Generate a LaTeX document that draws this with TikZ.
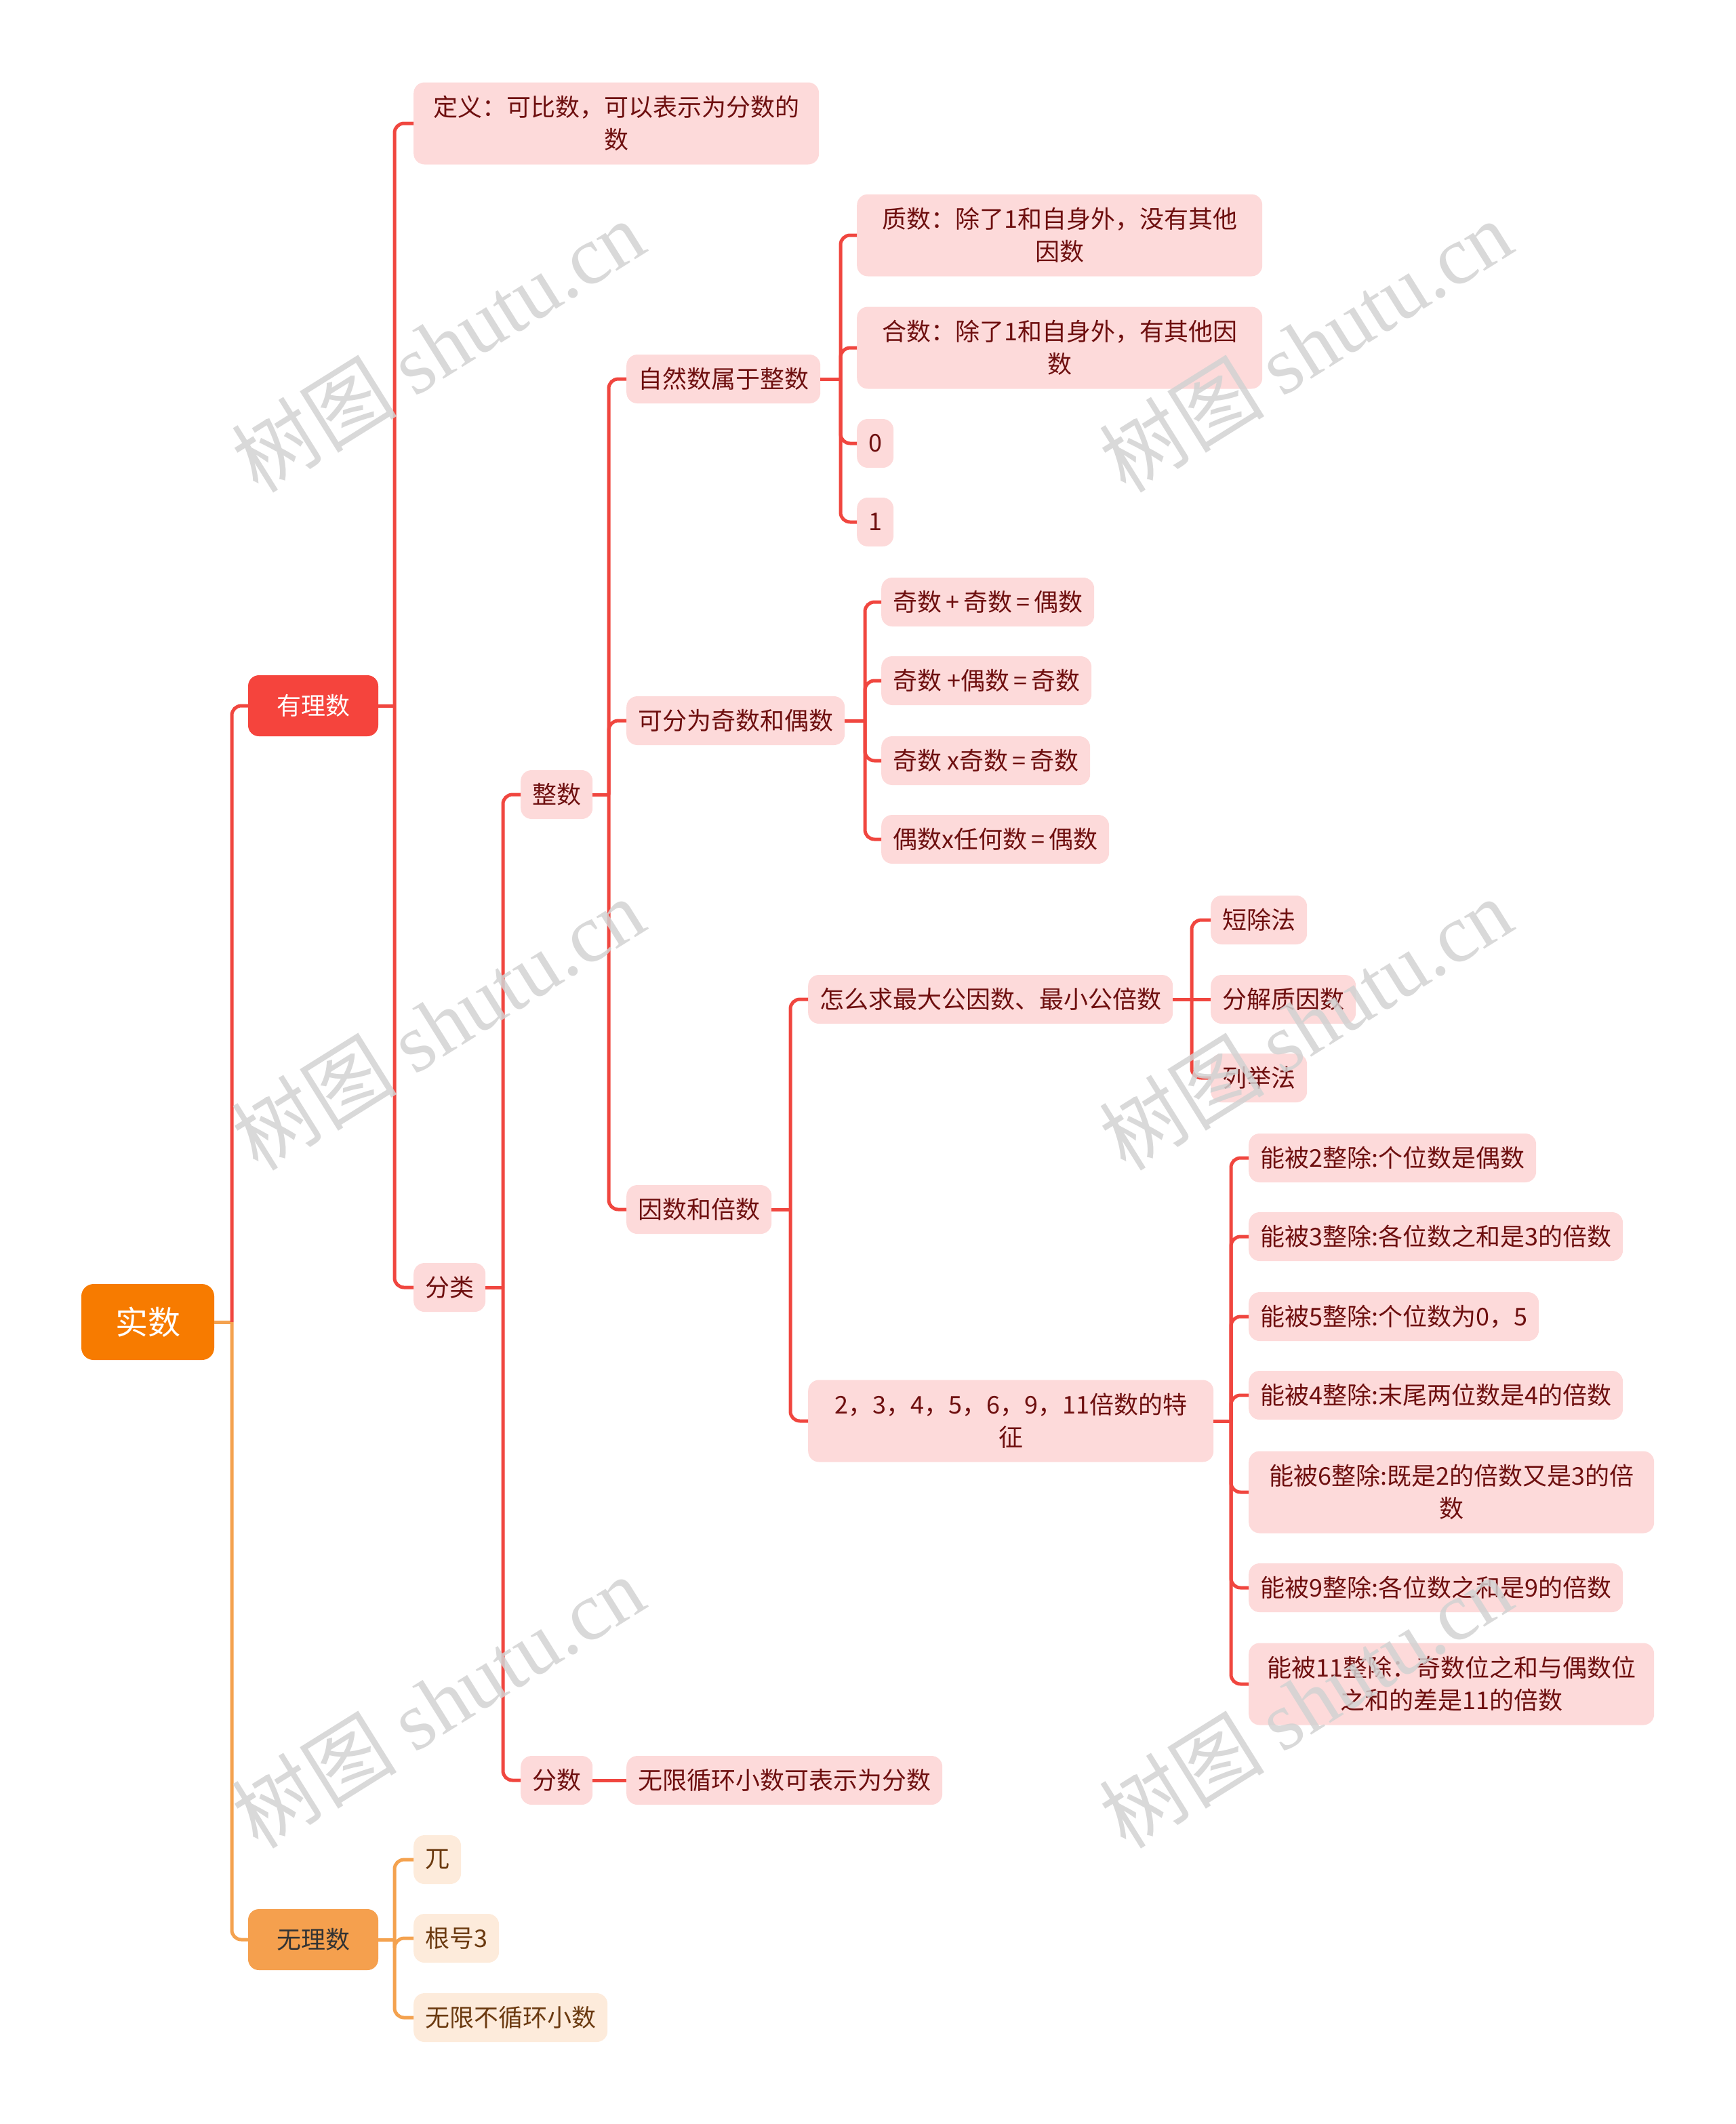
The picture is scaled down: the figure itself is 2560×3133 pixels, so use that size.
\documentclass[tikz,border=0pt]{standalone}
\usepackage{fontspec}
\setmainfont{Noto Sans CJK SC}
\newfontfamily\wmlatin{Liberation Serif}
\definecolor{cRed}{HTML}{F0463F}
\definecolor{cOrange}{HTML}{F4A24F}
\definecolor{cRoot}{HTML}{F77B00}
\definecolor{cYou}{HTML}{F5443D}
\definecolor{cWu}{HTML}{F5A04E}
\definecolor{cPink}{HTML}{FDDADA}
\definecolor{cPinkText}{HTML}{6E0F0F}
\definecolor{cCream}{HTML}{FDEBDB}
\definecolor{cCreamText}{HTML}{6B3A10}
\definecolor{cWm}{HTML}{D2D2D2}
\begin{document}
\begin{tikzpicture}[x=1pt,y=-1pt,
  rootbox/.style={fill=cRoot, text=white, rounded corners=18pt, font=\fontsize{48}{56}\selectfont, minimum width=196pt, minimum height=112pt, inner sep=0pt},
  lvlbox/.style={rounded corners=16pt, font=\fontsize{36}{48}\selectfont, minimum width=192pt, minimum height=90pt, inner sep=0pt},
  leaf/.style={fill=cPink, text=cPinkText, rounded corners=16pt, font=\fontsize{36}{48}\selectfont, inner xsep=17pt, inner ysep=4pt, minimum height=72pt, anchor=west},
  oleaf/.style={leaf, fill=cCream, text=cCreamText},
  twoline/.style={align=center, minimum width=598pt, minimum height=121pt, inner xsep=10pt},
  rline/.style={draw=cRed, line width=5pt, rounded corners=14pt},
  oline/.style={draw=cOrange, line width=5pt, rounded corners=14pt},
  wm/.style={text=cWm, opacity=0.85, rotate=32, font=\fontsize{122}{122}\selectfont}
]
\useasboundingbox (0,0) rectangle (2560,3133);

% level 0/1
\node[rootbox] (root) at (218,1950) {实数};
\node[lvlbox, fill=cYou, text=white] (you) at (462,1041) {有理数};
\node[lvlbox, fill=cWu, text=black!80] (wu) at (462,2861) {无理数};

% rational branch
\node[leaf, twoline] (def) at (610,182) {定义：可比数，可以表示为分数的\\数};
\node[leaf] (fenlei) at (610,1899) {分类};
\node[leaf] (zheng) at (768,1172) {整数};
\node[leaf] (fenshu) at (768,2626) {分数};
\node[leaf] (zrs) at (924,559) {自然数属于整数};
\node[leaf] (jo) at (924,1063) {可分为奇数和偶数};
\node[leaf] (ysbs) at (924,1784) {因数和倍数};
\node[leaf] (wxxh) at (924,2626) {无限循环小数可表示为分数};
\node[leaf, twoline] (zhi) at (1264,347) {质数：除了1和自身外，没有其他\\因数};
\node[leaf, twoline] (he) at (1264,513) {合数：除了1和自身外，有其他因\\数};
\node[leaf] (n0) at (1264,654) {0};
\node[leaf] (n1) at (1264,770) {1};
\node[leaf] (o1) at (1300,888) {奇数{\,}+{\,}奇数{\,}={\,}偶数};
\node[leaf] (o2) at (1300,1004) {奇数 +偶数{\,}={\,}奇数};
\node[leaf] (o3) at (1300,1122) {奇数 x奇数{\,}={\,}奇数};
\node[leaf] (o4) at (1300,1238) {偶数x任何数{\,}={\,}偶数};
\node[leaf] (gcd) at (1192,1474) {怎么求最大公因数、最小公倍数};
\node[leaf, twoline] (tz) at (1192,2096) {2，3，4，5，6，9，11倍数的特\\征};
\node[leaf] (dc) at (1786,1357) {短除法};
\node[leaf] (fj) at (1786,1474) {分解质因数};
\node[leaf] (lj) at (1786,1590) {列举法};
\node[leaf] (b2) at (1842,1708) {能被2整除:个位数是偶数};
\node[leaf] (b3) at (1842,1824) {能被3整除:各位数之和是3的倍数};
\node[leaf] (b5) at (1842,1942) {能被5整除:个位数为0，5};
\node[leaf] (b4) at (1842,2058) {能被4整除:末尾两位数是4的倍数};
\node[leaf, twoline] (b6) at (1842,2201) {能被6整除:既是2的倍数又是3的倍\\数};
\node[leaf] (b9) at (1842,2342) {能被9整除:各位数之和是9的倍数};
\node[leaf, twoline] (b11) at (1842,2484) {能被11整除：奇数位之和与偶数位\\之和的差是11的倍数};

% irrational branch
\node[oleaf] (pi) at (610,2743) {兀};
\node[oleaf] (gh) at (610,2859) {根号3};
\node[oleaf] (wxbx) at (610,2976) {无限不循环小数};

% trunk points
\coordinate (tRoot) at (342,1950);
\coordinate (tYou) at (582,1041);
\coordinate (tFen) at (742,1899);
\coordinate (tZheng) at (898,1172);
\coordinate (tZrs) at (1240,559);
\coordinate (tJo) at (1276,1063);
\coordinate (tYs) at (1166,1784);
\coordinate (tGcd) at (1758,1474);
\coordinate (tTz) at (1816,2096);
\coordinate (tWu) at (582,2861);

% connectors
\draw[oline] (root.east) -- (tRoot);
\draw[rline] (tRoot) |- (you.west);
\draw[oline] (tRoot) |- (wu.west);

\draw[rline] (you.east) -- (tYou);
\draw[rline] (tYou) |- (def.west);
\draw[rline] (tYou) |- (fenlei.west);

\draw[rline] (fenlei.east) -- (tFen);
\draw[rline] (tFen) |- (zheng.west);
\draw[rline] (tFen) |- (fenshu.west);

\draw[rline] (fenshu.east) -- (wxxh.west);

\draw[rline] (zheng.east) -- (tZheng);
\draw[rline] (tZheng) |- (zrs.west);
\draw[rline] (tZheng) |- (jo.west);
\draw[rline] (tZheng) |- (ysbs.west);

\draw[rline] (zrs.east) -- (tZrs);
\draw[rline] (tZrs) |- (zhi.west);
\draw[rline] (tZrs) |- (he.west);
\draw[rline] (tZrs) |- (n0.west);
\draw[rline] (tZrs) |- (n1.west);

\draw[rline] (jo.east) -- (tJo);
\draw[rline] (tJo) |- (o1.west);
\draw[rline] (tJo) |- (o2.west);
\draw[rline] (tJo) |- (o3.west);
\draw[rline] (tJo) |- (o4.west);

\draw[rline] (ysbs.east) -- (tYs);
\draw[rline] (tYs) |- (gcd.west);
\draw[rline] (tYs) |- (tz.west);

\draw[rline] (gcd.east) -- (fj.west);
\draw[rline] (tGcd) |- (dc.west);
\draw[rline] (tGcd) |- (lj.west);

\draw[rline] (tz.east) -- (tTz);
\draw[rline] (tTz) |- (b2.west);
\draw[rline] (tTz) |- (b3.west);
\draw[rline] (tTz) |- (b5.west);
\draw[rline] (tTz) |- (b4.west);
\draw[rline] (tTz) |- (b6.west);
\draw[rline] (tTz) |- (b9.west);
\draw[rline] (tTz) |- (b11.west);

\draw[oline] (wu.east) -- (tWu);
\draw[oline] (tWu) |- (pi.west);
\draw[oline] (tWu) |- (gh.west);
\draw[oline] (tWu) |- (wxbx.west);

% watermarks
\node[wm] (w1) at (646,510) {树图 {\wmlatin shutu.cn}};
\node[wm] (w2) at (1926,510) {树图 {\wmlatin shutu.cn}};
\node[wm] (w3) at (646,1510) {树图 {\wmlatin shutu.cn}};
\node[wm] (w4) at (1926,1510) {树图 {\wmlatin shutu.cn}};
\node[wm] (w5) at (646,2510) {树图 {\wmlatin shutu.cn}};
\node[wm] (w6) at (1926,2510) {树图 {\wmlatin shutu.cn}};
\end{tikzpicture}
\end{document}
